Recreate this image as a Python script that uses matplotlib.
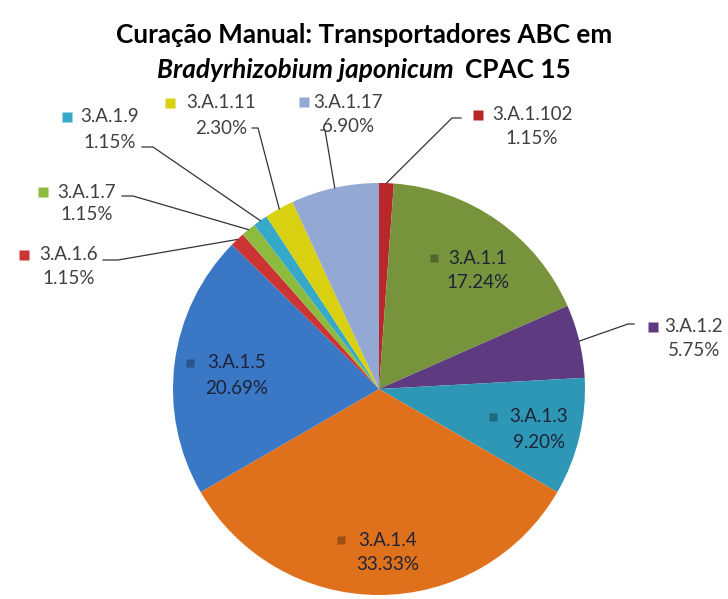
import matplotlib.pyplot as plt
import matplotlib.colors as mcolors
import numpy as np

labels = ['3.A.1.102', '3.A.1.1', '3.A.1.2', '3.A.1.3', '3.A.1.4', '3.A.1.5',
          '3.A.1.6', '3.A.1.7', '3.A.1.9', '3.A.1.11', '3.A.1.17']
values = [1.15, 17.24, 5.75, 9.20, 33.33, 20.69, 1.15, 1.15, 1.15, 2.30, 6.90]
colors = ['#B8282B', '#77933C', '#5E3B80', '#2E97B6', '#E0711C', '#3A77C4',
          '#CC3333', '#8DBB3E', '#36A9C9', '#D8D010', '#93A8D2']

W, H = 728, 599
CX, CY, R = 379, 389, 206

def py(y):
    return H - y

# label placement in pixels (top-down): text centre x, line1 y, line2 y, square x
inside = {
    '3.A.1.1': (478, 258, 282, 434),
    '3.A.1.3': (539, 417, 442, 493),
    '3.A.1.4': (388, 540, 565, 341),
    '3.A.1.5': (237, 363, 388, 190),
}
outside = {
    '3.A.1.102': (532, 115, 138, 478),
    '3.A.1.17': (348, 102, 126, 304),
    '3.A.1.11': (221, 103, 128, 170),
    '3.A.1.9': (110, 117, 142, 67),
    '3.A.1.7': (87, 192, 215, 43),
    '3.A.1.6': (69, 255, 278, 24),
    '3.A.1.2': (694, 327, 351, 653),
}
# leader line: elbow point, end point
leaders = {
    '3.A.1.102': [(452, 118), (461, 118)],
    '3.A.1.17': [(325, 130), (321, 130)],
    '3.A.1.11': [(258, 128), (252, 128)],
    '3.A.1.9': [(153, 147), (142, 147)],
    '3.A.1.7': [(133, 196), (122, 196)],
    '3.A.1.6': [(118, 260), (103, 260)],
    '3.A.1.2': [(628, 324), (634, 324)],
}

fig = plt.figure(figsize=(W / 100, H / 100), dpi=100)
ax = fig.add_axes([0, 0, 1, 1])
ax.set_aspect('equal')
ax.axis('off')

wedges, _ = ax.pie(values, colors=colors, startangle=90, counterclock=False,
                   center=(CX, py(CY)), radius=R,
                   wedgeprops=dict(linewidth=0.5, edgecolor='none'))
ax.set_xlim(0, W)
ax.set_ylim(0, H)

font = 'Lato'
fs = 13.5
txt_col = '#404040'
for lab, val, col, w in zip(labels, values, colors, wedges):
    pct = f'{val:.2f}%'
    if lab in inside:
        x, y1, y2, sx = inside[lab]
        ax.text(x, py(y1), lab, ha='center', va='center', fontsize=fs,
                family=font, color='#1E2438')
        ax.text(x, py(y2), pct, ha='center', va='center', fontsize=fs,
                family=font, color='#1E2438')
        dark = np.array(mcolors.to_rgb(col)) * 0.7
        ax.plot(sx, py(y1), 's', ms=6, color=dark, mec='none')
    else:
        x, y1, y2, sx = outside[lab]
        ax.text(x, py(y1), lab, ha='center', va='center', fontsize=fs,
                family=font, color=txt_col)
        ax.text(x, py(y2), pct, ha='center', va='center', fontsize=fs,
                family=font, color=txt_col)
        ax.plot(sx, py(y1), 's', ms=7.5, color=col, mec='none')
        ang = np.deg2rad((w.theta1 + w.theta2) / 2)
        ex = CX + R * np.cos(ang)
        ey = py(CY) + R * np.sin(ang)
        pts = [(ex, ey)] + [(a, py(b)) for a, b in leaders[lab]]
        xs, ys = zip(*pts)
        ax.plot(xs, ys, color='#333333', lw=0.9)

tfs = 18.8
fig.text(0.5, py(35) / H, 'Curação Manual: Transportadores ABC em',
         ha='center', va='center', fontsize=tfs, fontweight='bold', family=font)

# second title line: italic species name + upright strain, centred together
r = fig.canvas.get_renderer()
t1 = fig.text(0, py(70) / H, 'Bradyrhizobium japonicum', ha='left', va='center',
              fontsize=tfs, fontweight='bold', fontstyle='italic', family=font)
t2 = fig.text(0, py(70) / H, 'CPAC 15', ha='left', va='center',
              fontsize=tfs, fontweight='bold', family=font)
w1 = t1.get_window_extent(r).width
w2 = t2.get_window_extent(r).width
gap = 12
x0 = (W - (w1 + gap + w2)) / 2
t1.set_x(x0 / W)
t2.set_x((x0 + w1 + gap) / W)

fig.savefig('out.png', dpi=100)
